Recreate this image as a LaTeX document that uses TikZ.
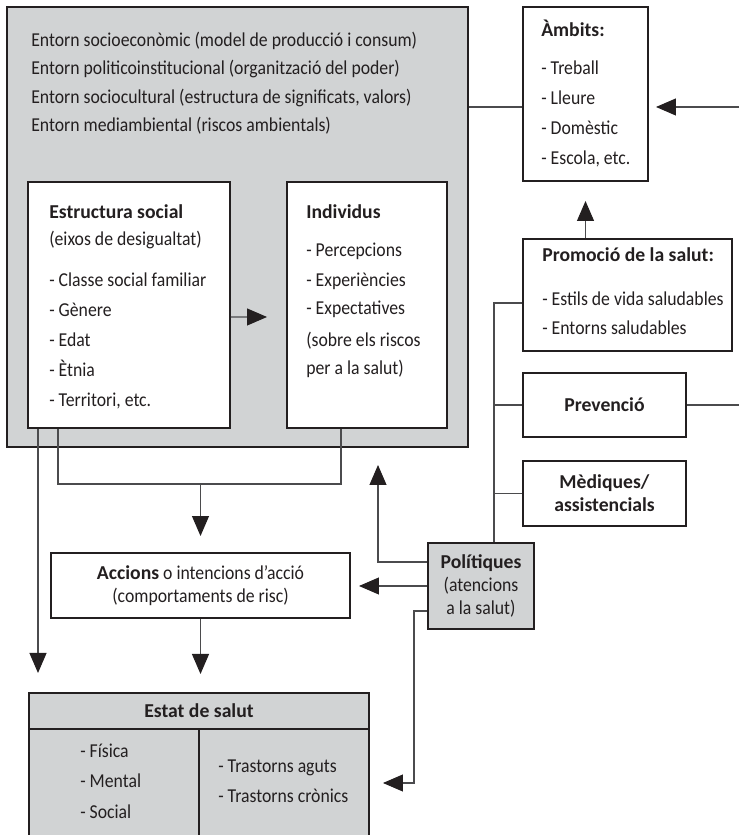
\documentclass[tikz,border=0pt]{standalone}
\usepackage{fontspec}
\setmainfont{Carlito}[UprightFeatures={FakeStretch=0.9}]
\usepackage{xcolor}
\usepackage{tikz}
\usetikzlibrary{arrows.meta,positioning,calc}
\definecolor{boxgray}{RGB}{209,211,212}
\definecolor{inkgray}{RGB}{35,31,32}
\definecolor{linegray}{RGB}{75,75,77}
\newcommand{\bodyfont}{\fontsize{14}{21.3}\selectfont}
\newcommand{\tightfont}{\fontsize{14}{16.2}\selectfont}
\tikzset{
  box/.style={rectangle, draw=inkgray, line width=1.4pt, fill=white, inner sep=0pt},
  graybox/.style={box, fill=boxgray},
  rule/.style={draw=inkgray, line width=1.4pt},
  lbl/.style={anchor=base west, inner sep=0pt, font=\bodyfont},
  tight/.style={font=\tightfont, align=center},
  conn/.style={draw=linegray, line width=0.75pt},
  arr/.style={conn, -{Triangle[length=5mm, width=4.25mm, color=inkgray]}},
}

\begin{document}
\begin{tikzpicture}[text=inkgray, font=\bodyfont]
    \useasboundingbox (0,0) rectangle (18.475,20.875);

    % entorn and its two inner boxes
    \node[graybox, minimum width=11.525cm, minimum height=11cm] (entorn) at (5.9375,15.2) {};
    \foreach \y/\t [count=\i] in {
        19.71/{Entorn socioeconòmic (model de producció i consum)},
        19.0/{Entorn politicoinstitucional (organització del poder)},
        18.29/{Entorn sociocultural (estructura de significats, valors)},
        17.58/{Entorn mediambiental (riscos ambientals)}}{
      \node[lbl] (ent\i) at (0.775,\y) {\t};
    }

    \node[box, minimum width=5.05cm, minimum height=6.15cm] (estr) at (3.225,13.25) {};
    \foreach \y/\t [count=\i] in {
        15.4/{\textbf{Estructura social}},
        14.725/{(eixos de desigualtat)},
        13.7/{- Classe social familiar},
        12.95/{- Gènere},
        12.2/{- Edat},
        11.45/{- Ètnia},
        10.7/{- Territori, etc.}}{
      \node[lbl] (estr\i) at (1.225,\y) {\t};
    }

    \node[box, minimum width=4cm, minimum height=6.15cm] (indiv) at (9.175,13.25) {};
    \foreach \y/\t [count=\i] in {
        15.4/{\textbf{Individus}},
        14.45/{- Percepcions},
        13.7/{- Experiències},
        13.0/{- Expectatives},
        12.2/{(sobre els riscos},
        11.5/{per a la salut)}}{
      \node[lbl] (indiv\i) at (7.65,\y) {\t};
    }

    % right column
    \node[box, minimum width=3.125cm, minimum height=4.35cm] (ambits) at (14.6375,18.525) {};
    \foreach \y/\t [count=\i] in {
        19.95/{\textbf{Àmbits:}},
        19.0/{- Treball},
        18.25/{- Lleure},
        17.5/{- Domèstic},
        16.75/{- Escola, etc.}}{
      \node[lbl] (ambits\i) at (13.525,\y) {\t};
    }

    \node[box, minimum width=5.225cm, minimum height=2.8cm] (promo) at (15.6875,13.5) {};
    \foreach \y/\t [count=\i] in {
        14.325/{\textbf{Promoció de la salut:}},
        13.225/{- Estils de vida saludables},
        12.5/{- Entorns saludables}}{
      \node[lbl] (promo\i) at (13.55,\y) {\t};
    }

    \node[box, minimum width=4.075cm, minimum height=1.6cm] (prev) at (15.1125,10.75) {\textbf{Prevenció}};
    \node[box, tight, minimum width=4.075cm, minimum height=1.625cm] (medi) at (15.1125,8.5375)
      {\textbf{Mèdiques/}\\\textbf{assistencials}};
    \node[graybox, tight, minimum width=2.65cm, minimum height=2.15cm] (polit) at (12.025,6.225)
      {\textbf{Polítiques}\\(atencions\\a la salut)};

    % accions and estat de salut
    \node[box, tight, minimum width=7.475cm, minimum height=1.625cm] (accions) at (5.0125,6.2375)
      {\textbf{Accions} o intencions d’acció\\(comportaments de risc)};

    \node[graybox, anchor=north, minimum width=8.5cm, minimum height=4.5cm] (estat) at (4.975,3.575) {};
    \node (estatT) at (4.975,3.1125) {\textbf{Estat de salut}};
    \draw[rule] ([yshift=-9.25mm]estat.north west) -- ([yshift=-9.25mm]estat.north east);
    \draw[rule] ([yshift=-9.25mm]estat.north) -- (estat.south);
    \foreach \y/\t [count=\i] in {1.925/{- Física}, 1.175/{- Mental}, 0.425/{- Social}}{
      \node[lbl] (estatL\i) at (2.0,\y) {\t};
    }
    \foreach \y/\t [count=\i] in {1.55/{- Trastorns aguts}, 0.8/{- Trastorns crònics}}{
      \node[lbl] (estatR\i) at (5.45,\y) {\t};
    }

    % connectors
    \coordinate (rin) at (18.475,18.2);
    \coordinate (rout) at (18.475,10.75);
    \coordinate (trunk) at (12.35,13.3);
    \coordinate (jl) at (1.45,8.775);
    \coordinate (jr) at (8.525,8.775);
    \coordinate (lx) at (0.95,4.05);
    \coordinate (upx) at (9.45,9.25);
    \coordinate (dnx) at (10.35,1.3);

    \draw[conn] ([yshift=-3.25mm]ambits.west -| entorn.east) -- ([yshift=-3.25mm]ambits.west);
    \draw[arr] (rin) -- ([xshift=1.75mm]rin -| ambits.east);
    \draw[arr] (ambits.south |- promo.north) -- ([yshift=-4.75mm]ambits.south);
    \draw[conn] (prev.east) -- (rout);

    \draw[conn] (trunk -| promo.west) -- (trunk) -- (trunk |- polit.north);
    \draw[conn] (prev.west) -- (prev.west -| trunk);
    \draw[conn] (medi.west) -- (medi.west -| trunk);

    \draw[arr] ([yshift=-3mm]estr.east) -- ([xshift=-4.75mm]indiv.west |- 0,12.95);
    \draw[arr] (lx |- estr.south) -- (lx);
    \draw[conn] (jl |- estr.south) -- (jl) -- (jr) -- (jr |- indiv.south);
    \draw[arr] (accions.north |- jl) -- ([yshift=4mm]accions.north);
    \draw[arr] (accions.south) -- ([yshift=4.5mm]accions.south |- estat.north);

    \draw[arr] ([yshift=6mm]polit.west) -| (upx);
    \draw[arr] (polit.west) -- ([xshift=2mm]polit.west -| accions.east);
    \draw[arr] ([yshift=-6.25mm]polit.west) -| (dnx) -- ([xshift=3.25mm]dnx -| estat.east);
\end{tikzpicture}
\end{document}
